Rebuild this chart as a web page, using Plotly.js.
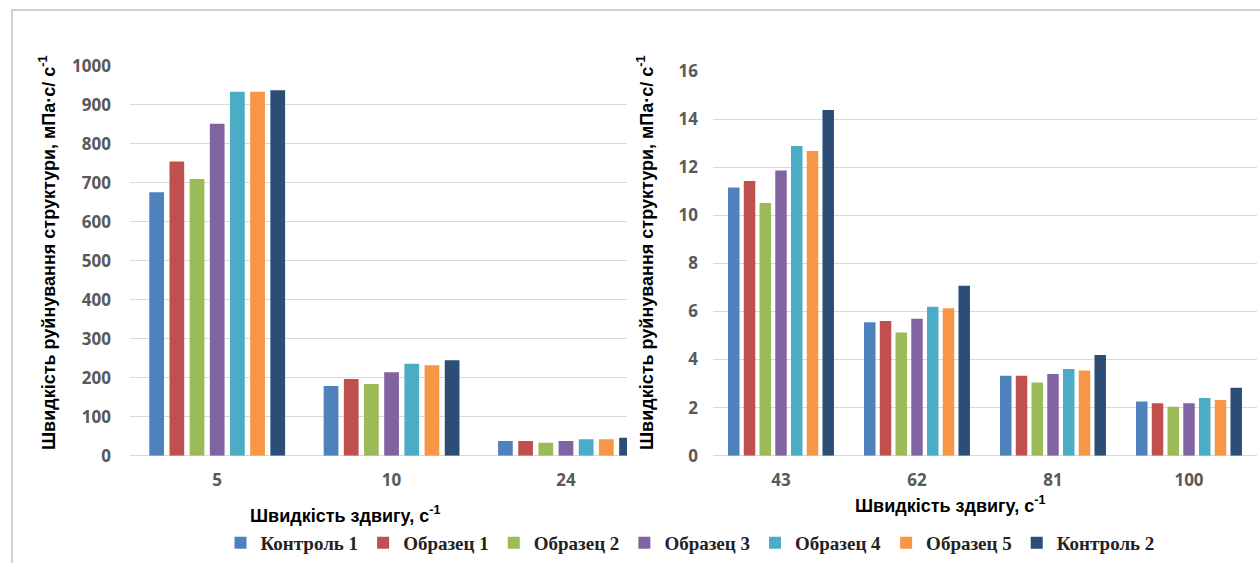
<!DOCTYPE html>
<html><head><meta charset="utf-8">
<script src="https://cdn.plot.ly/plotly-3.0.1.min.js"></script>
<style>html,body{margin:0;padding:0;background:#fff}</style>
</head><body><div id="chart" style="width:1260px;height:563px"></div>
<script>
const seriesNames = ['Контроль 1','Образец 1','Образец 2','Образец 3','Образец 4','Образец 5','Контроль 2'];
const seriesColors = ['#4f81bd','#c0504d','#9bbb59','#8064a2','#4bacc6','#f79646','#2c4d75'];

const shearLow = ['5','10','24'];
const shearHigh = ['43','62','81','100'];

const lowKontrol1 = [676, 179, 38];
const lowObrazec1 = [755, 197, 38];
const lowObrazec2 = [710, 184, 33];
const lowObrazec3 = [852, 214, 38];
const lowObrazec4 = [934, 236, 42];
const lowObrazec5 = [934, 232, 42];
const lowKontrol2 = [938, 245, 46];

const highKontrol1 = [11.15, 5.55, 3.32, 2.25];
const highObrazec1 = [11.43, 5.60, 3.32, 2.18];
const highObrazec2 = [10.51, 5.12, 3.04, 2.04];
const highObrazec3 = [11.86, 5.70, 3.40, 2.18];
const highObrazec4 = [12.88, 6.20, 3.61, 2.40];
const highObrazec5 = [12.67, 6.13, 3.54, 2.32];
const highKontrol2 = [14.38, 7.07, 4.19, 2.83];

const yLowTicks = [0,100,200,300,400,500,600,700,800,900,1000];
const yHighTicks = [0,2,4,6,8,10,12,14,16];

const yTitle = 'Швидкість руйнування структури, мПа·с/ с<sup>-1</sup>';
const xTitle = 'Швидкість здвигу, с<sup>-1</sup>';

const lowData = [lowKontrol1, lowObrazec1, lowObrazec2, lowObrazec3, lowObrazec4, lowObrazec5, lowKontrol2];
const highData = [highKontrol1, highObrazec1, highObrazec2, highObrazec3, highObrazec4, highObrazec5, highKontrol2];

const W = 1260, H = 563;
const px = v => v / W;
const py = v => 1 - v / H;

const traces = [];
lowData.forEach((vals, i) => {
  traces.push({type:'bar', name: seriesNames[i], x: shearLow, y: vals, xaxis:'x', yaxis:'y',
    marker:{color: seriesColors[i]}, legendgroup: 's'+i, showlegend: true, hoverinfo:'y'});
});
highData.forEach((vals, i) => {
  traces.push({type:'bar', name: seriesNames[i], x: shearHigh, y: vals, xaxis:'x2', yaxis:'y2',
    marker:{color: seriesColors[i]}, legendgroup: 's'+i, showlegend: false, hoverinfo:'y'});
});

const tickFont = {family:'Open Sans, sans-serif', size:17, color:'#595959', weight:'bold'};
const titleFont = {family:'Liberation Sans, Arial, sans-serif', size:18, color:'#000', weight:'bold'};

const layout = {
  width: W, height: H,
  margin: {l:0, r:0, t:0, b:0},
  paper_bgcolor:'#fff', plot_bgcolor:'#fff',
  barmode:'group', bargap:0.19, bargroupgap:0.27,
  showlegend:true,
  legend:{orientation:'h', x: px(690), xanchor:'center', y: py(543), yanchor:'middle',
    font:{family:'Liberation Serif, Times New Roman, serif', size:19, color:'#222', weight:'bold'},
    itemwidth:30, traceorder:'normal'},
  xaxis:{domain:[px(130), px(627)], type:'category', range:[-0.5, 2.35], showgrid:false,
    showline:false, ticks:'', tickfont: tickFont, ticklabelstandoff: 12, fixedrange:true},
  yaxis:{domain:[py(455.7), py(66)], range:[0, 1000], tickvals: yLowTicks, showgrid:true,
    gridcolor:'#d9d9d9', gridwidth:1, zeroline:true, zerolinecolor:'#d9d9d9', zerolinewidth:1,
    showline:false, ticks:'', tickfont: tickFont, ticklabelstandoff: 18, fixedrange:true},
  xaxis2:{domain:[px(713), px(1257)], type:'category', range:[-0.5, 3.5], anchor:'y2', showgrid:false,
    showline:false, ticks:'', tickfont: tickFont, ticklabelstandoff: 12, fixedrange:true},
  yaxis2:{domain:[py(455.7), py(71)], range:[0, 16], tickvals: yHighTicks, anchor:'x2', showgrid:true,
    gridcolor:'#d9d9d9', gridwidth:1, zeroline:true, zerolinecolor:'#d9d9d9', zerolinewidth:1,
    showline:false, ticks:'', tickfont: tickFont, ticklabelstandoff: 14, fixedrange:true},
  annotations:[
    {text: yTitle, textangle:-90, xref:'paper', yref:'paper', x: px(47), y: py(253),
      xanchor:'center', yanchor:'middle', showarrow:false, font: titleFont},
    {text: yTitle, textangle:-90, xref:'paper', yref:'paper', x: px(645), y: py(253),
      xanchor:'center', yanchor:'middle', showarrow:false, font: titleFont},
    {text: xTitle, xref:'paper', yref:'paper', x: px(345), y: py(514),
      xanchor:'center', yanchor:'middle', showarrow:false, font: titleFont},
    {text: xTitle, xref:'paper', yref:'paper', x: px(950), y: py(504),
      xanchor:'center', yanchor:'middle', showarrow:false, font: titleFont}
  ],
  shapes:[
    {type:'rect', xref:'paper', yref:'paper', x0: px(12), x1: 1.01, y0: -0.02, y1: py(10),
      line:{color:'#d0d0d0', width:2}, fillcolor:'rgba(0,0,0,0)', layer:'below'}
  ]
};

Plotly.newPlot('chart', traces, layout, {displayModeBar:false, staticPlot:true});
</script>
</body></html>
